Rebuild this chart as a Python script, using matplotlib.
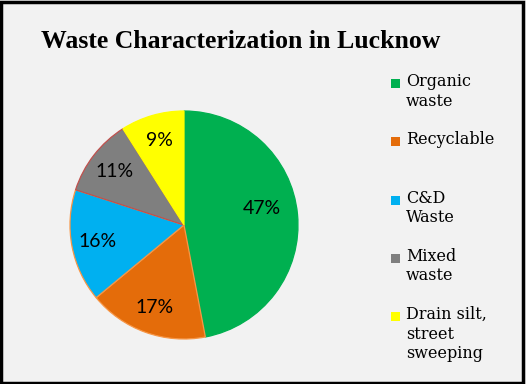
import matplotlib
matplotlib.use("Agg")
import numpy as np
import matplotlib.pyplot as plt
from matplotlib.patches import Rectangle

# chart data
categories = ["Organic\nwaste", "Recyclable", "C&D\nWaste", "Mixed\nwaste",
              "Drain silt,\nstreet\nsweeping"]
shares = [47, 17, 16, 11, 9]
colors = ["#00B050", "#E46C0A", "#00B0F0", "#7F7F7F", "#FFFF00"]
edges = ["#00B050", "#F79646", "#F79646", "#C0504D", "#FFFF00"]

W, H = 526, 384
fig = plt.figure(figsize=(W / 100, H / 100), dpi=100, facecolor="#F2F2F2")

# pie area: centre (184, 225) px, radius 114 px
cx, cy, r = 184, 225, 114
ax = fig.add_axes([(cx - r) / W, (H - cy - r) / H, 2 * r / W, 2 * r / H])
wedges, texts, autotexts = ax.pie(
    shares, colors=colors, startangle=90, counterclock=False,
    autopct="%1.0f%%", pctdistance=0.77,
    wedgeprops=dict(linewidth=0.9),
    textprops=dict(fontsize=14, family="Lato", color="black"),
)
for w, ec in zip(wedges, edges):
    w.set_edgecolor(ec)
# Excel puts the big slice label a bit higher / further in
a = np.deg2rad(12)
autotexts[0].set_position((0.70 * np.cos(a), 0.70 * np.sin(a)))
ax.set_xlim(-1, 1)
ax.set_ylim(-1, 1)
ax.set_aspect("equal")
ax.axis("off")

fig.text(241 / W, 1 - 42 / H, "Waste Characterization in Lucknow",
         ha="center", va="center", fontsize=18.5, fontweight="bold",
         family="Liberation Serif")

# legend, one entry every 58 px
for i, (lab, col) in enumerate(zip(categories, colors)):
    ytop = 73 + i * 58.3
    fig.patches.append(Rectangle((391 / W, 1 - (ytop + 15) / H), 9 / W, 9 / H,
                                 transform=fig.transFigure, facecolor=col,
                                 edgecolor="none"))
    fig.text(406 / W, 1 - ytop / H, lab, ha="left", va="top", fontsize=11.5,
             family="DejaVu Serif", linespacing=1.2)

# outer frame
fig.patches.append(Rectangle((0.002, 0.003), 0.993, 0.993,
                             transform=fig.transFigure, fill=False,
                             edgecolor="black", linewidth=2.5))

fig.savefig("out.png", dpi=100, facecolor=fig.get_facecolor())
